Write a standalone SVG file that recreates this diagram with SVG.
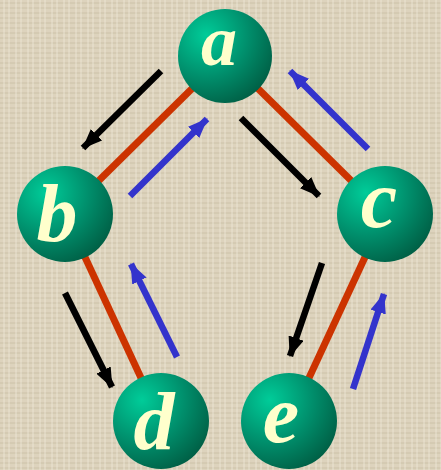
<svg xmlns="http://www.w3.org/2000/svg" width="441" height="470" viewBox="0 0 441 470">
<style>
.edge{stroke:#cc3300;stroke-width:7;fill:none}
.blk{stroke:#000;stroke-width:6.5;fill:none}
.blu{stroke:#3333cc;stroke-width:6.5;fill:none}
.ball{fill:url(#sph)}
.lbl{font-family:"Liberation Serif","Times New Roman",serif;font-style:italic;font-weight:bold;font-size:82px;fill:#ffffcc;text-anchor:middle}
</style>
<defs>
<radialGradient id="sph" cx="0.3" cy="0.28" r="0.8">
<stop offset="0" stop-color="#00cc99"/>
<stop offset="0.55" stop-color="#008f6c"/>
<stop offset="1" stop-color="#005f45"/>
</radialGradient>
<pattern id="tex" width="12" height="10" patternUnits="userSpaceOnUse">
<rect width="12" height="10" fill="#ddd3bd"/>
<path d="M0 3H12M0 8H12" stroke="#c4b9a0" stroke-width="1" opacity="0.7"/>
<path d="M4 0V10M9 0V10" stroke="#eee7d7" stroke-width="1" opacity="0.8"/>
</pattern>
<marker id="ahk" markerWidth="20" markerHeight="16" refX="19" refY="8" orient="auto" markerUnits="userSpaceOnUse"><path d="M0,0L20,8L0,16z" fill="#000"/></marker>
<marker id="ahb" markerWidth="20" markerHeight="16" refX="19" refY="8" orient="auto" markerUnits="userSpaceOnUse"><path d="M0,0L20,8L0,16z" fill="#3333cc"/></marker>
</defs>
<rect width="441" height="470" fill="url(#tex)"/>
<g id="connectors">
<line class="edge" x1="225" y1="56" x2="65" y2="214"/>
<line class="edge" x1="225" y1="56" x2="385" y2="214"/>
<line class="edge" x1="65" y1="214" x2="161" y2="421"/>
<line class="edge" x1="385" y1="214" x2="289" y2="421"/>
<line class="blk" x1="161" y1="71" x2="83" y2="148" marker-end="url(#ahk)"/>
<line class="blk" x1="241" y1="118" x2="319" y2="196" marker-end="url(#ahk)"/>
<line class="blk" x1="65" y1="293" x2="112" y2="387" marker-end="url(#ahk)"/>
<line class="blk" x1="322" y1="263" x2="290" y2="356" marker-end="url(#ahk)"/>
<line class="blu" x1="130" y1="196" x2="207" y2="119" marker-end="url(#ahb)"/>
<line class="blu" x1="368" y1="149" x2="290" y2="71" marker-end="url(#ahb)"/>
<line class="blu" x1="177" y1="357" x2="131" y2="264" marker-end="url(#ahb)"/>
<line class="blu" x1="353" y1="389" x2="384" y2="294" marker-end="url(#ahb)"/>
</g>
<g id="node-a"><circle class="ball" cx="225" cy="56" r="47"/><text class="lbl" x="219" y="65" style="font-size:72px">a</text></g>
<g id="node-b"><circle class="ball" cx="65" cy="214" r="48"/><text class="lbl" x="57" y="241">b</text></g>
<g id="node-c"><circle class="ball" cx="385" cy="214" r="48"/><text class="lbl" x="379" y="227">c</text></g>
<g id="node-d"><circle class="ball" cx="161" cy="421" r="48"/><text class="lbl" x="154" y="449">d</text></g>
<g id="node-e"><circle class="ball" cx="289" cy="421" r="48"/><text class="lbl" x="281" y="442">e</text></g>
</svg>
